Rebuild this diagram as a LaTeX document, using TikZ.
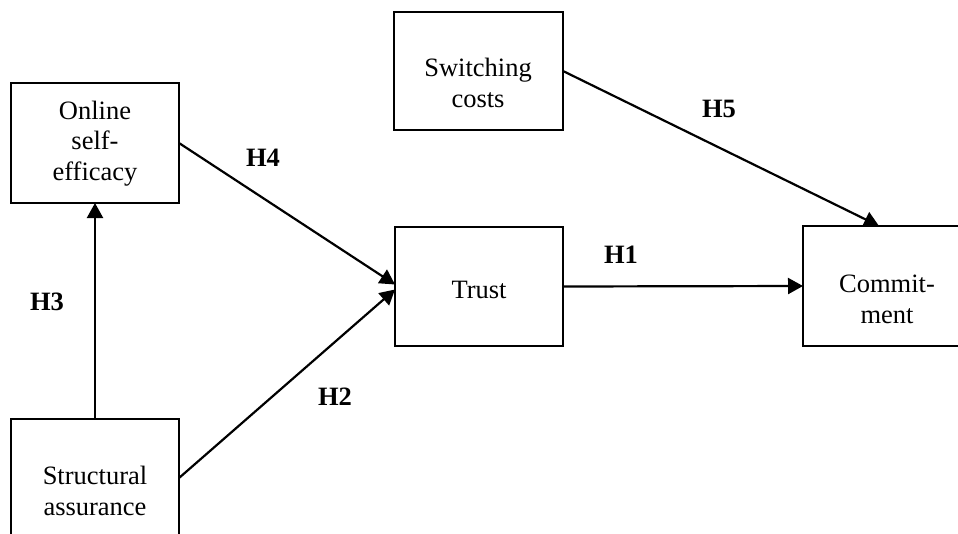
\documentclass[tikz,border=0pt]{standalone}
\usepackage{fontspec}
\setmainfont{Liberation Serif}
\usetikzlibrary{arrows.meta}
\begin{document}
\begin{tikzpicture}[x=1pt,y=-1pt,
  bx/.style={draw, line width=2.2pt, rectangle, inner sep=0pt, outer sep=0pt},
  txt/.style={font=\fontsize{26.5}{30.5}\selectfont, align=center, anchor=base, inner sep=0pt},
  lbl/.style={font=\bfseries\fontsize{26.5}{30}\selectfont, anchor=base, inner sep=0pt},
  arr/.style={line width=2.2pt, -{Triangle[length=15pt,width=16pt]}}]
\useasboundingbox (0,0) rectangle (958,533);
\clip (0,0) rectangle (958,533);
% boxes
\node[bx, minimum width=168pt, minimum height=120pt] (ose) at (95,143) {};
\node[bx, minimum width=168pt, minimum height=148pt] (sa) at (95,493) {};
\node[bx, minimum width=169pt, minimum height=118pt] (sc) at (478.5,71) {};
\node[bx, minimum width=168pt, minimum height=119pt] (tr) at (479,286.5) {};
\node[bx, minimum width=168pt, minimum height=120pt] (cm) at (887,286) {};
% texts (base anchor = last line baseline)
\node[txt] (tose) at (95,180) {Online\\self-\\efficacy};
\node[txt] (tsa) at (95,515) {Structural\\assurance};
\node[txt] (tsc) at (478,107) {Switching\\costs};
\node[txt] (ttr) at (479,298) {Trust};
\node[txt] (tcm) at (887,323) {Commit-\\ment};
% connectors
\draw[arr] (sa.north) -- (ose.south);
\draw[arr] (ose.east) -- ([yshift=2pt]tr.west);
\draw[arr] ([yshift=15pt]sa.east) -- ([yshift=-3pt]tr.west);
\draw[arr] (tr.east) -- (cm.west);
\draw[arr] (sc.east) -- ([xshift=-8pt]cm.north);
% labels
\node[lbl] (h4) at (263,166) {H4};
\node[lbl] (h3) at (47,310) {H3};
\node[lbl] (h2) at (335,405) {H2};
\node[lbl] (h1) at (621,263) {H1};
\node[lbl] (h5) at (719,117) {H5};
\end{tikzpicture}
\end{document}
